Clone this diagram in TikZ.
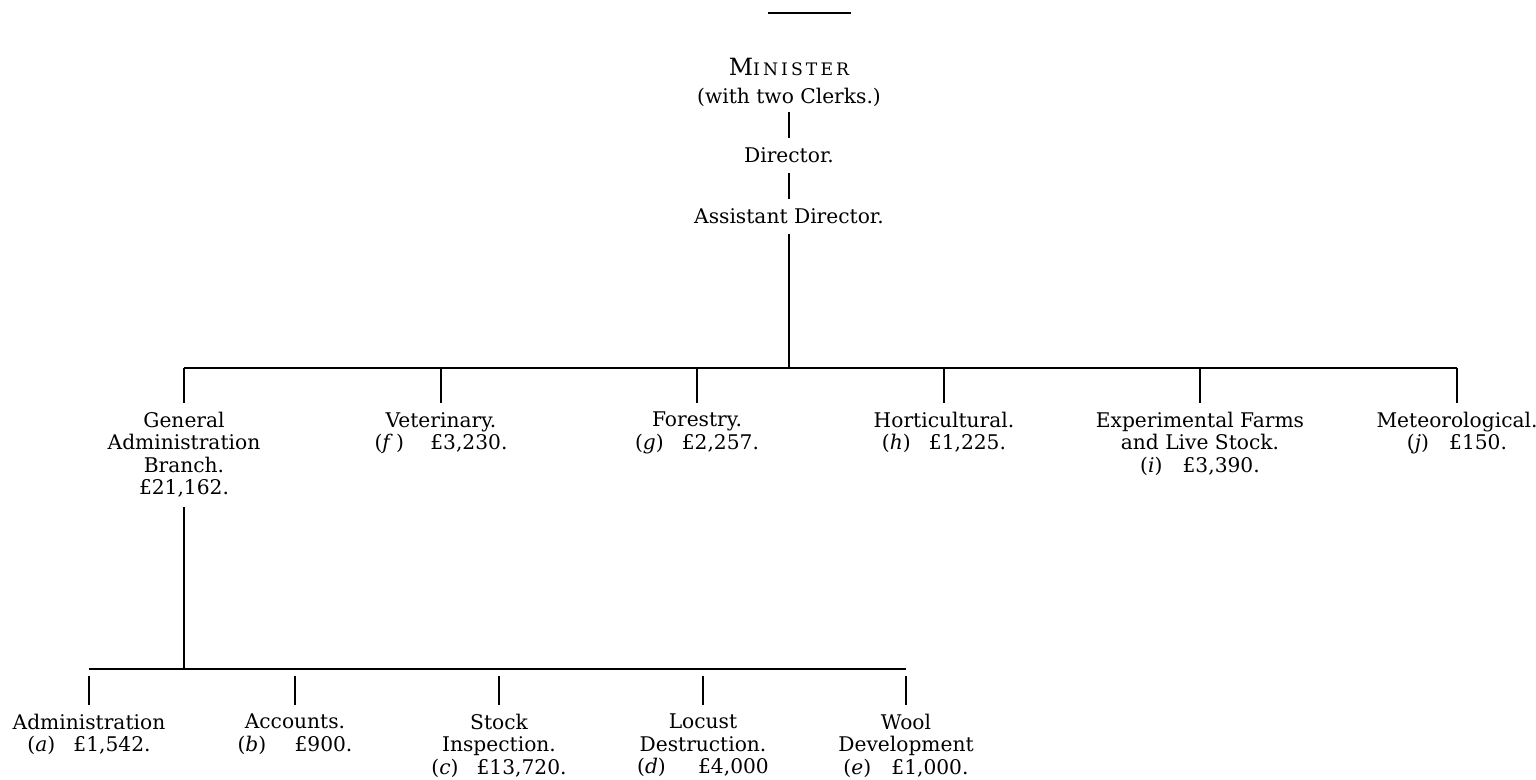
\documentclass[tikz,border=0pt]{standalone}
\usepackage{fontspec}
\setmainfont{DejaVu Serif}
\newfontfamily\capsfont[LetterSpace=18]{DejaVu Serif}
\usetikzlibrary{positioning}

\begin{document}
\begin{tikzpicture}[x=0.02cm, y=-0.02cm,
  unit/.style={align=center, inner xsep=0pt, inner ysep=5pt, anchor=north, font=\fontsize{11.5}{12.8}\selectfont},
  post/.style={inner xsep=0pt, inner ysep=5.5pt, anchor=base, font=\fontsize{11.5}{12.8}\selectfont},
  vline/.style={line width=1.2pt},
  hline/.style={line width=0.6pt}]
\useasboundingbox (0,0) rectangle (1536,780);
\draw[line width=1.1pt] (768,13) -- (851,13);

\node[unit, inner ysep=3pt] (min) at (789,53) {{\capsfont\fontsize{13.5}{13}\selectfont M\fontsize{9.8}{13}\selectfont INISTER}\\[3pt](with two Clerks.)};
\node[post] (dir) at (789,163) {Director.};
\node[post] (asst) at (789,224) {Assistant Director.};
\coordinate (hub) at (789,368);

\node[unit] (gab) at (184,403) {General\\Administration\\Branch.\\£21,162.};
\node[unit] (vet) at (441,403) {Veterinary.\\(\textit{f}\,)\hspace{1.3em}£3,230.};
\node[unit] (for) at (697,403) {Forestry.\\(\textit{g})\hspace{0.9em}£2,257.};
\node[unit] (hor) at (944,403) {Horticultural.\\(\textit{h})\hspace{0.9em}£1,225.};
\node[unit] (exp) at (1200,403) {Experimental Farms\\and Live Stock.\\(\textit{i})\hspace{1em}£3,390.};
\node[unit] (met) at (1457,403) {Meteorological.\\(\textit{j})\hspace{1em}£150.};
\coordinate (sub) at (184,669);

\node[unit] (adm) at (89,705) {Administration\\(\textit{a})\hspace{0.9em}£1,542.};
\node[unit] (acc) at (295,705) {Accounts.\\(\textit{b})\hspace{1.4em}£900.};
\node[unit] (stk) at (499,705) {Stock\\Inspection.\\(\textit{c})\hspace{0.9em}£13,720.};
\node[unit] (loc) at (703,705) {Locust\\Destruction.\\(\textit{d})\hspace{1.6em}£4,000};
\node[unit] (wool) at (906,705) {Wool\\Development\\(\textit{e})\hspace{1em}£1,000.};

\draw[vline] (min.south) -- (dir.north);
\draw[vline] (dir.south) -- (asst.north);
\draw[vline] (asst.south) -- (hub);
\draw[hline] (gab.north |- hub) -- (met.north |- hub);
\foreach \n in {gab,vet,for,hor,exp,met}
  \draw[vline] (\n.north) -- (\n.north |- hub);
\draw[vline] (gab.south) -- (sub);
\draw[hline] (adm.north |- sub) -- (wool.north |- sub);
\foreach \n in {adm,acc,stk,loc,wool}
  \draw[vline, shorten >=4pt] (\n.north) -- (\n.north |- sub);
\end{tikzpicture}
\end{document}
